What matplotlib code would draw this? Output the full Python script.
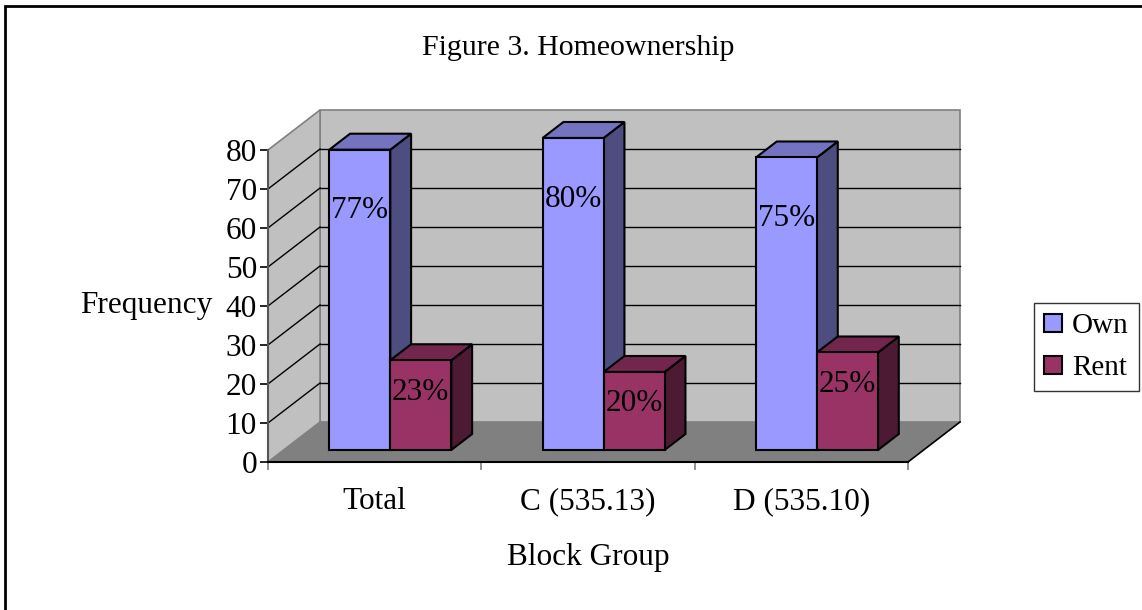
import matplotlib
matplotlib.use("Agg")
import matplotlib.pyplot as plt
from matplotlib.patches import Polygon, Patch, Rectangle

plt.rcParams['font.family'] = ['Liberation Serif', 'DejaVu Serif']

# data
categories = ["Total", "C (535.13)", "D (535.10)"]
series = ["Own", "Rent"]
own = [77, 80, 75]
rent = [23, 20, 25]
yticks = [0, 10, 20, 30, 40, 50, 60, 70, 80]

FS = 22.5
# face colours: front, top, side
colors = {
    "Own": ("#9999FF", "#7373BF", "#4D4D80"),
    "Rent": ("#993366", "#73264D", "#4D1A33"),
}

fig = plt.figure(figsize=(11.42, 6.10), dpi=100)
ax = fig.add_axes([268 / 1142, 1 - 462 / 610, 640 / 1142, 312 / 610])
ax.set_xlim(0, 3)
ax.set_ylim(0, 80)

# oblique depth vector (full depth of the plot box) in data units
DX, DY = 0.244, 10.26


def proj(x, y, d):
    return (x + d * DX, y + d * DY)


def face(pts, fc, ec, lw=1.0, z=1):
    poly = Polygon([proj(*p) for p in pts], closed=True, facecolor=fc,
                   edgecolor=ec, linewidth=lw, zorder=z, clip_on=False)
    ax.add_patch(poly)


ymax = yticks[-1]
# back wall, side wall, floor
face([(0, 0, 1), (3, 0, 1), (3, ymax, 1), (0, ymax, 1)], "#C0C0C0", "#808080", 1.2, 1)
face([(0, 0, 0), (0, 0, 1), (0, ymax, 1), (0, ymax, 0)], "#C0C0C0", "#808080", 1.2, 1)
face([(0, 0, 0), (3, 0, 0), (3, 0, 1), (0, 0, 1)], "#808080", "none", 0, 1)

# gridlines on the back and side walls
for v in yticks[1:-1]:
    ax.plot(*zip(proj(0, v, 1), proj(3, v, 1)), color="black", lw=1, zorder=2, clip_on=False)
    ax.plot(*zip(proj(0, v, 0), proj(0, v, 1)), color="black", lw=1, zorder=2, clip_on=False)

# floor right edge
ax.plot(*zip(proj(3, 0, 0), proj(3, 0, 1)), color="black", lw=1.2, zorder=2, clip_on=False)

# bars
bw = 0.286
d0, d1 = 0.3, 0.7
z = 3
for i, cat in enumerate(categories):
    for j, (name, vals) in enumerate(zip(series, [own, rent])):
        v = vals[i]
        x0 = i + 0.5 - bw + j * bw
        x1 = x0 + bw
        front, top, side = colors[name]
        face([(x1, 0, d0), (x1, 0, d1), (x1, v, d1), (x1, v, d0)], side, "black", 1.5, z)
        face([(x0, v, d0), (x1, v, d0), (x1, v, d1), (x0, v, d1)], top, "black", 1.5, z)
        face([(x0, 0, d0), (x1, 0, d0), (x1, v, d0), (x0, v, d0)], front, "black", 1.5, z)
        z += 1
        off = -44 if name == "Own" else -23
        ax.annotate(f"{v}%", xy=proj((x0 + x1) / 2, v, d0), xytext=(0, off),
                    textcoords="offset points", ha="center", va="center",
                    fontsize=FS, zorder=20, annotation_clip=False)

# axes
for s in ["top", "right"]:
    ax.spines[s].set_visible(False)
ax.spines["left"].set_color("#555555")
ax.spines["left"].set_linewidth(1.5)
ax.spines["bottom"].set_color("black")
ax.spines["bottom"].set_linewidth(1.5)
ax.spines["left"].set_zorder(2)
ax.spines["bottom"].set_zorder(2)
ax.patch.set_visible(False)

ax.set_yticks(yticks)
ax.tick_params(axis="y", length=6, width=1.2, color="black", pad=2, labelsize=FS)
ax.set_xticks([0, 1, 2, 3])
ax.set_xticklabels([])
ax.tick_params(axis="x", which="major", length=6, width=1.2, color="#808080")
ax.set_xticks([0.5, 1.5, 2.5], minor=True)
ax.set_xticklabels(categories, minor=True)
ax.tick_params(axis="x", which="minor", length=0, pad=18, labelsize=FS)

ax.set_ylabel("Frequency", rotation=0, ha="right", va="center", fontsize=FS)
ax.yaxis.set_label_coords(-0.0875, 0.5)
ax.set_xlabel("Block Group", va="center", fontsize=FS)
ax.xaxis.set_label_coords(0.5, -0.3045)

fig.text(578 / 1142, 1 - 48 / 610, "Figure 3. Homeownership", ha="center", va="center", fontsize=21.5)

handles = [Patch(facecolor=colors[s][0], edgecolor="black", linewidth=1.5) for s in series]
leg = fig.legend(handles, series, loc="upper right", bbox_to_anchor=(1139 / 1142, 1 - 303 / 610),
                 borderaxespad=0, fontsize=21, frameon=True, fancybox=False,
                 handlelength=0.6, handleheight=0.55, handletextpad=0.35,
                 labelspacing=0.55, borderpad=0.35)
leg.get_frame().set_edgecolor("black")
leg.get_frame().set_linewidth(1.0)

# outer frame
fig.add_artist(Rectangle((5 / 1142, -0.1), 1.2, 1.1 - 6 / 610, transform=fig.transFigure,
                         fill=False, edgecolor="black", linewidth=2))

fig.savefig("out.png", dpi=100, facecolor="white")
